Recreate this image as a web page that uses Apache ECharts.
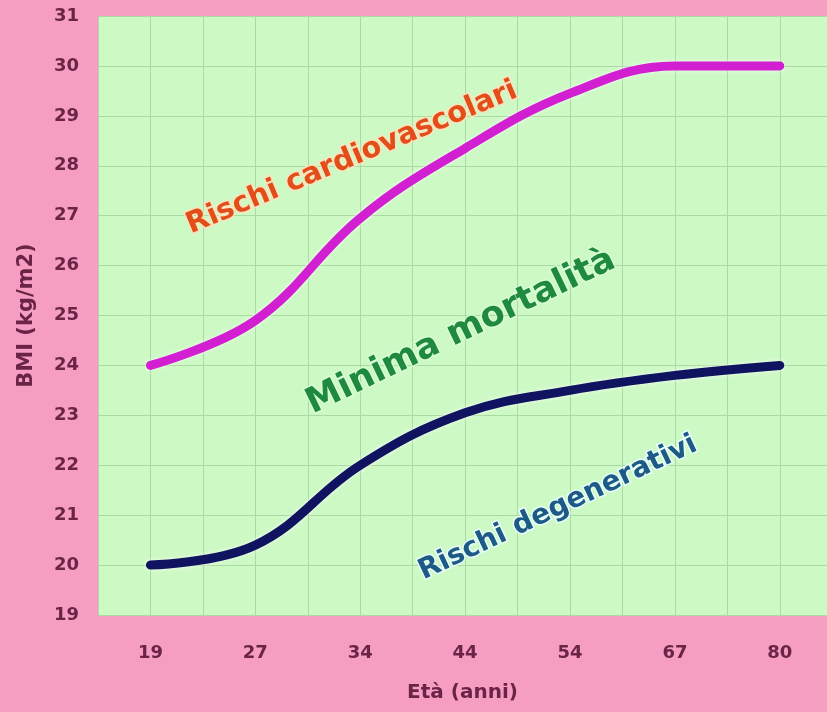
<!DOCTYPE html>
<html>
<head>
<meta charset="utf-8">
<title>BMI ed età</title>
<script src="https://cdn.jsdelivr.net/npm/echarts@6/dist/echarts.min.js"></script>
<style>
  html, body { margin: 0; padding: 0; background: #f59ec2; }
  #chart { width: 827px; height: 712px; }
</style>
</head>
<body>
<div id="chart"></div>
<script>
// Età (anni) sull'asse orizzontale
const ages = ['19', '27', '34', '44', '54', '67', '80'];
// Limite superiore: oltre si hanno rischi cardiovascolari
const upperBMI = [24.0, 24.9, 26.95, 28.35, 29.45, 30.0, 30.0];
// Limite inferiore: sotto si hanno rischi degenerativi
const lowerBMI = [20.0, 20.4, 22.0, 23.05, 23.5, 23.8, 24.0];
// Tacche dell'asse BMI
const bmiTicks = [19, 20, 21, 22, 23, 24, 25, 26, 27, 28, 29, 30, 31];

const toPairs = vals => vals.map((v, i) => [i, v]);

const chart = echarts.init(document.getElementById('chart'));

const labelColor = '#6b2446';
const haloText = (text, x, y, rot, size, color, halo) => ({
  type: 'text',
  x: x, y: y,
  rotation: rot * Math.PI / 180,
  style: {
    text: text,
    fill: color,
    font: 'bold ' + size + 'px "DejaVu Sans", sans-serif',
    align: 'center',
    verticalAlign: 'middle',
    stroke: halo,
    lineWidth: 3
  },
  z: 100
});

chart.setOption({
  backgroundColor: '#f59ec2',
  animation: false,
  grid: {
    left: 98, right: 0, top: 16, bottom: 97,
    outerBoundsMode: 'none',
    containLabel: false,
    show: true,
    backgroundColor: '#cdf9c5',
    borderWidth: 0
  },
  xAxis: {
    type: 'value',
    min: -0.5,
    max: 6.45,
    interval: 0.5,
    name: 'Età (anni)',
    nameLocation: 'middle',
    nameGap: 68,
    nameTextStyle: { color: labelColor, fontWeight: 'bold', fontSize: 20, fontFamily: 'DejaVu Sans' },
    axisLine: { show: false },
    axisTick: { show: false },
    axisLabel: {
      color: labelColor,
      fontSize: 18,
      fontWeight: 'bold',
      fontFamily: 'DejaVu Sans',
      margin: 29,
      showMinLabel: false,
      showMaxLabel: false,
      formatter: v => (Number.isInteger(v) && ages[v] !== undefined) ? ages[v] : ''
    },
    splitLine: { show: true, lineStyle: { color: '#acd8a2', width: 1 } }
  },
  yAxis: {
    type: 'value',
    min: bmiTicks[0],
    max: bmiTicks[bmiTicks.length - 1],
    interval: 1,
    name: 'BMI (kg/m2)',
    nameLocation: 'middle',
    nameGap: 61,
    nameRotate: 90,
    nameTextStyle: { color: labelColor, fontWeight: 'bold', fontSize: 21, fontFamily: 'DejaVu Sans' },
    axisLine: { show: false },
    axisTick: { show: false },
    axisLabel: {
      color: labelColor,
      fontSize: 18,
      fontWeight: 'bold',
      fontFamily: 'DejaVu Sans',
      margin: 19
    },
    splitLine: { show: true, lineStyle: { color: '#acd8a2', width: 1 } }
  },
  series: [
    {
      type: 'line',
      data: toPairs(upperBMI),
      smooth: 0.4,
      symbol: 'none',
      lineStyle: { color: '#d21fd2', width: 9, cap: 'round', shadowColor: 'rgba(255,255,255,0.8)', shadowBlur: 4 },
      z: 5
    },
    {
      type: 'line',
      data: toPairs(lowerBMI),
      smooth: 0.4,
      symbol: 'none',
      lineStyle: { color: '#101460', width: 9, cap: 'round', shadowColor: 'rgba(255,255,255,0.8)', shadowBlur: 4 },
      z: 5
    }
  ],
  graphic: [
    haloText('Rischi cardiovascolari', 352, 158, 22.7, 29, '#e24e1a', 'rgba(255,225,190,0.9)'),
    haloText('Minima mortalità', 461, 332, 25.8, 35, '#1f8a3e', 'rgba(225,255,225,0.6)'),
    haloText('Rischi degenerativi', 558, 508, 25.3, 28, '#1d5a86', 'rgba(235,255,255,0.9)')
  ]
});
</script>
</body>
</html>
